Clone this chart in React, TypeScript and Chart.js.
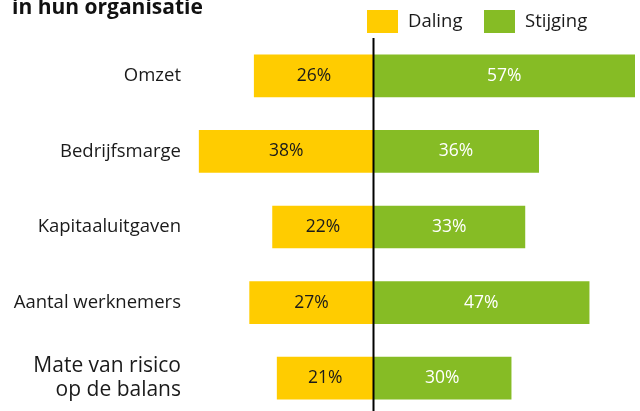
import React, { useEffect, useRef } from "react";
import { Chart, registerables } from "chart.js";

Chart.register(...registerables);

const categories: (string | string[])[] = [
  "Omzet",
  "Bedrijfsmarge",
  "Kapitaaluitgaven",
  "Aantal werknemers",
  ["Mate van risico", "op de balans"],
];
const daling = [26, 38, 22, 27, 21];
const stijging = [57, 36, 33, 47, 30];
const seriesNames = ["Daling", "Stijging"];
const titleText = "in hun organisatie";

const YELLOW = "#FFCC00";
const GREEN = "#86BC25";
const FONT = "'Open Sans', sans-serif";

export default function App() {
  const ref = useRef<HTMLCanvasElement | null>(null);

  useEffect(() => {
    if (!ref.current) return;
    const overlay = {
      id: "overlay",
      afterDatasetsDraw(chart: any) {
        const ctx = chart.ctx;
        const area = chart.chartArea;
        ctx.save();
        // value labels
        chart.data.datasets.forEach((ds: any, di: number) => {
          const meta = chart.getDatasetMeta(di);
          meta.data.forEach((el: any, i: number) => {
            const v = Math.abs(ds.data[i]);
            const cx = (el.x + el.base) / 2;
            ctx.font = `17.5px ${FONT}`;
            ctx.fillStyle = di === 0 ? "#1a1a1a" : "#ffffff";
            ctx.textAlign = "center";
            ctx.textBaseline = "middle";
            ctx.fillText(`${v}%`, cx, el.y);
          });
        });
        // zero line
        const x0 = chart.scales.x.getPixelForValue(0);
        ctx.strokeStyle = "#000";
        ctx.lineWidth = 2;
        ctx.beginPath();
        ctx.moveTo(x0, area.top);
        ctx.lineTo(x0, chart.height);
        ctx.stroke();
        // title
        ctx.font = `bold 21px ${FONT}`;
        ctx.fillStyle = "#111";
        ctx.textAlign = "left";
        ctx.textBaseline = "alphabetic";
        ctx.fillText(titleText, 12, 14);
        // legend
        const items = [
          { name: seriesNames[0], color: YELLOW, bx: 367, tx: 408 },
          { name: seriesNames[1], color: GREEN, bx: 484, tx: 525 },
        ];
        items.forEach((it) => {
          ctx.fillStyle = it.color;
          ctx.fillRect(it.bx, 10, 31, 23);
          ctx.fillStyle = "#1a1a1a";
          ctx.font = `18.5px ${FONT}`;
          ctx.textBaseline = "middle";
          ctx.fillText(it.name, it.tx, 22);
        });
        ctx.restore();
      },
    };

    const chart = new Chart(ref.current, {
      type: "bar",
      data: {
        labels: categories,
        datasets: [
          {
            label: seriesNames[0],
            data: daling.map((v) => -v),
            backgroundColor: YELLOW,
            barThickness: 42,
            stack: "s",
          },
          {
            label: seriesNames[1],
            data: stijging,
            backgroundColor: GREEN,
            barThickness: 42,
            stack: "s",
          },
        ],
      },
      options: {
        indexAxis: "y",
        animation: false,
        responsive: false,
        maintainAspectRatio: false,
        layout: { padding: { top: 38, right: 5, bottom: 0, left: 0 } },
        plugins: {
          legend: { display: false },
          title: { display: false },
          tooltip: { enabled: false },
        },
        scales: {
          x: {
            stacked: true,
            min: -40,
            max: 57,
            display: false,
          },
          y: {
            stacked: true,
            border: { display: false },
            grid: { display: false, drawTicks: false },
            afterFit: (scale: any) => {
              scale.width = 190;
              scale.paddingTop = 0;
              scale.paddingBottom = 0;
            },
            ticks: {
              padding: 9,
              color: "#1a1a1a",
              font: (c: any) =>
                c.index === 4
                  ? { family: FONT, size: 21, lineHeight: 1.15 }
                  : { family: FONT, size: 18.5 },
            },
          },
        },
      },
      plugins: [overlay],
    });
    return () => chart.destroy();
  }, []);

  return (
    <div style={{ position: "absolute", left: 0, top: 0, width: 640, height: 416 }}>
      <canvas ref={ref} width={640} height={416} style={{ display: "block" }} />
    </div>
  );
}
